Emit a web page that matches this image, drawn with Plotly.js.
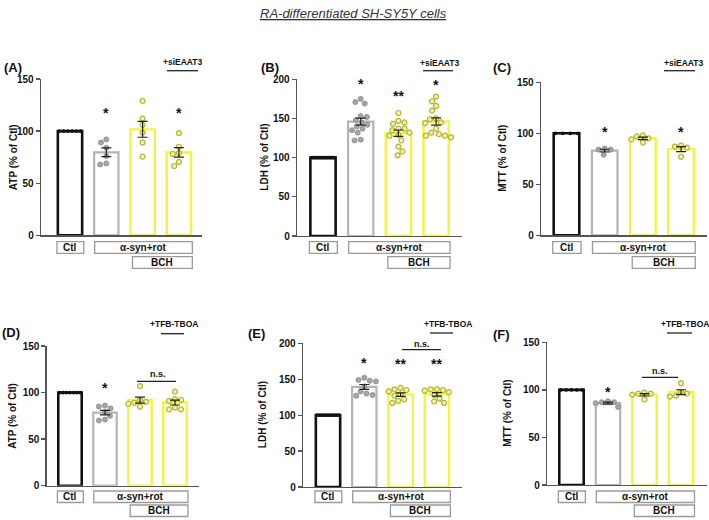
<!DOCTYPE html>
<html><head><meta charset="utf-8">
<script src="https://cdn.plot.ly/plotly-3.0.1.min.js"></script>
<style>html,body{margin:0;padding:0;background:#fff}</style>
</head><body><div id="chart" style="width:709px;height:520px"></div>
<script>
// ---- data ----
const groupNames = ["Ctl", "α-syn+rot", "α-syn+rot+BCH", "α-syn+rot+BCH+inhibitor"];

const atpA_ctl   = [100, 100, 100, 100, 100, 100];
const atpA_rot   = [92, 89, 84, 76, 69, 68];
const atpA_bch   = [129, 112, 106, 98.5, 89, 75.5];
const atpA_bchSi = [98, 85, 79, 78, 70.5, 66.5];

const ldhB_ctl   = [100, 100, 100, 100, 100, 100, 100, 100, 100, 100, 100, 100, 100, 100];
const ldhB_rot   = [175, 171, 169, 153, 152, 148, 145, 142, 140, 137, 135, 132, 123, 122];
const ldhB_bch   = [157, 147, 145, 143, 137, 137, 135, 132, 129, 128, 122, 114, 108, 103];
const ldhB_bchSi = [178, 172, 166, 160, 150, 149, 145, 144, 137, 132, 130, 128, 126, 128];

const mttC_ctl   = [100, 100, 100, 100];
const mttC_rot   = [85, 84, 84, 79];
const mttC_bch   = [98, 97, 95, 94, 91];
const mttC_bchSi = [88, 87, 86, 77];

const atpD_ctl   = [100, 100, 100, 100, 100, 100, 100];
const atpD_rot   = [86, 85, 83, 79, 75, 71, 70];
const atpD_bch   = [107, 92, 90, 89, 88, 85];
const atpD_bchTb = [101, 93, 92, 91, 84, 82, 82];

const ldhE_ctl   = [100, 100, 100, 100, 100, 100, 100, 100, 100];
const ldhE_rot   = [152, 149, 148, 147, 140, 133, 130, 128, 127];
const ldhE_bch   = [138, 136, 135, 133, 129, 127, 122, 120, 117];
const ldhE_bchTb = [136, 136, 135, 134, 132, 128, 123, 119, 117];

const mttF_ctl   = [100, 100, 100, 100, 100];
const mttF_rot   = [88, 87, 87, 86, 82];
const mttF_bch   = [97, 96, 96, 95, 90];
const mttF_bchTb = [107, 98, 96, 94, 93];

const yTicksSmall = [0, 50, 100, 150];
const yTicksLarge = [0, 50, 100, 150, 200];

// ---- drawing ----
const W = 709, H = 520;
const PX = x => x / W, PY = y => 1 - y / H;
const FONT = "Liberation Sans, Arial, sans-serif";

const panels = [
  {lab:'(A)', labXY:[13,68], ytitle:'ATP (% of Ctl)', ytx:13, sets:[atpA_ctl,atpA_rot,atpA_bch,atpA_bchSi], ticks:yTicksSmall,
   g:{l:41,r:202,c0:70,s:36.3,t:79,b:235.3}, stars:[[1,'*',108.7],[3,'*',108.7]],
   tag:{text:'+siEAAT3', x:182.5, y:62, x1:167, x2:198, ly:70.7}, boxRow:[241.7,253.3,256.7,268.3]},
  {lab:'(B)', labXY:[270,67], ytitle:'LDH (% of Ctl)', ytx:265, sets:[ldhB_ctl,ldhB_rot,ldhB_bch,ldhB_bchSi], ticks:yTicksLarge,
   g:{l:297,r:462,c0:323,s:37.7,t:79.3,b:236}, stars:[[1,'*',80],[2,'**',91.7],[3,'*',80.7]],
   tag:{text:'+siEAAT3', x:440, y:62.7, x1:423, x2:453, ly:70.7}, boxRow:[241.7,253.3,256.7,268.3]},
  {lab:'(C)', labXY:[502,67], ytitle:'MTT (% of Ctl)', ytx:503, sets:[mttC_ctl,mttC_rot,mttC_bch,mttC_bchSi], ticks:yTicksSmall,
   g:{l:541,r:707,c0:566.5,s:38.2,t:82.3,b:235.3}, stars:[[1,'*',128.3],[3,'*',128.3]],
   tag:{text:'+siEAAT3', x:684, y:62.7, x1:664, x2:695, ly:70.7}, boxRow:[241.7,253.3,256.7,268.3]},
  {lab:'(D)', labXY:[11,332], ytitle:'ATP (% of Ctl)', ytx:13, sets:[atpD_ctl,atpD_rot,atpD_bch,atpD_bchTb], ticks:yTicksSmall,
   g:{l:46.7,r:199,c0:70,s:35,t:346,b:485.7}, stars:[[1,'*',384]],
   tag:{text:'+TFB-TBOA', x:174, y:324, x1:161, x2:184, ly:333.7},
   ns:{x:158, y:374, x1:137, x2:176, ly:381.3}, boxRow:[491,502.5,505,516.5]},
  {lab:'(E)', labXY:[256,333], ytitle:'LDH (% of Ctl)', ytx:262, sets:[ldhE_ctl,ldhE_rot,ldhE_bch,ldhE_bchTb], ticks:yTicksLarge,
   g:{l:303,r:462,c0:328,s:36.3,t:343.3,b:487}, stars:[[1,'*',359],[2,'**',359.7],[3,'**',359.7]],
   tag:{text:'+TFB-TBOA', x:448, y:324, x1:430, x2:453, ly:333},
   ns:{x:422, y:343.7, x1:402, x2:441, ly:349.7}, boxRow:[491,502.5,505,516.5]},
  {lab:'(F)', labXY:[501,334], ytitle:'MTT (% of Ctl)', ytx:508, sets:[mttF_ctl,mttF_rot,mttF_bch,mttF_bchTb], ticks:yTicksSmall,
   g:{l:547,r:707,c0:571.5,s:36.5,t:342.3,b:485}, stars:[[1,'*',388.3]],
   tag:{text:'+TFB-TBOA', x:685, y:324, x1:667, x2:692, ly:333},
   ns:{x:660, y:370.7, x1:642, x2:678, ly:377.3}, boxRow:[491,502.5,505,516.5]}
];

const barLine = ['#111111', '#b4b4b4', '#f4f43c', '#f4f43c'];
const barLineW = [2.6, 2.2, 2.4, 2.4];
const BARW = 0.67;

function mean(a){ return a.reduce((s,v)=>s+v,0)/a.length; }
function sem(a){ const m=mean(a); const v=a.reduce((s,x)=>s+(x-m)*(x-m),0)/(a.length-1); return Math.sqrt(v/a.length); }

function swarm(vals, ppy, d){
  const order = vals.map((v,i)=>i).sort((a,b)=>vals[b]-vals[a]);
  const placed = []; const off = new Array(vals.length).fill(0);
  order.forEach((i,k)=>{
    const y = vals[i]*ppy;
    const iv = [];
    placed.forEach(p=>{ const dy=Math.abs(p.y-y); if(dy<d){ const dx=Math.sqrt(d*d-dy*dy); iv.push([p.x-dx,p.x+dx]); }});
    const c = [0]; iv.forEach(r=>c.push(r[0],r[1]));
    c.sort((a,b)=>Math.abs(a)-Math.abs(b) || (k%2? a-b : b-a));
    let x = 0;
    for(const cc of c){ if(iv.every(r=>cc<=r[0]+1e-6||cc>=r[1]-1e-6)){ x=cc; break; } }
    placed.push({x,y}); off[i]=x;
  });
  return off;
}

const traces = [], shapes = [], annotations = [];
const layout = {width:W, height:H, margin:{l:0,r:0,t:0,b:0}, paper_bgcolor:'#fff', plot_bgcolor:'rgba(0,0,0,0)',
  showlegend:false, font:{family:FONT, color:'#111'}, shapes, annotations};

panels.forEach((p,pi)=>{
  const n = pi+1, xa = 'x'+(n>1?n:''), ya = 'y'+(n>1?n:'');
  const g = p.g, ymax = p.ticks[p.ticks.length-1];
  layout['xaxis'+(n>1?n:'')] = {domain:[PX(g.l),PX(g.r)], range:[(g.l-g.c0)/g.s,(g.r-g.c0)/g.s], anchor:ya,
    showline:true, linecolor:'#555', linewidth:1.3, showgrid:false, zeroline:false, showticklabels:false, ticks:'', fixedrange:true};
  layout['yaxis'+(n>1?n:'')] = {domain:[PY(g.b),PY(g.t)], range:[0,ymax], anchor:xa,
    showline:true, linecolor:'#555', linewidth:1.3, showgrid:false, zeroline:false, tickmode:'array', tickvals:p.ticks,
    ticks:'outside', ticklen:4, tickwidth:1.3, tickcolor:'#555',
    tickfont:{family:FONT, size:10, color:'#111', weight:'bold'}, fixedrange:true};

  const means = p.sets.map(mean);
  traces.push({type:'bar', x:[0,1,2,3], y:means, width:BARW, xaxis:xa, yaxis:ya, hoverinfo:'skip',
    marker:{color:'#ffffff', line:{color:barLine, width:barLineW}}});

  const ppy = (g.b-g.t)/ymax;
  p.sets.forEach((vals,k)=>{
    let offs;
    if(k===0){
      const half = BARW*g.s/2 - 1.5; const m = vals.length;
      offs = vals.map((v,i)=> m>1 ? -half + 2*half*i/(m-1) : 0);
    } else {
      offs = swarm(vals, ppy, 6.2);
    }
    const style = k===0 ? {size:3.8, color:'#111', line:{width:0}}
                : k===1 ? {size:5, color:'#a6a6a6', line:{color:'#8c8c8c', width:0.9}}
                : {size:5, color:'#f1f1b4', line:{color:'#b4b42a', width:1.2}};
    traces.push({type:'scatter', mode:'markers', x:vals.map((v,i)=>k+offs[i]/g.s), y:vals, xaxis:xa, yaxis:ya,
      marker:style, cliponaxis:false, hoverinfo:'skip'});
  });

  traces.push({type:'scatter', mode:'markers', x:[1,2,3], y:means.slice(1), xaxis:xa, yaxis:ya, hoverinfo:'skip',
    marker:{size:1, color:'rgba(0,0,0,0)'}, cliponaxis:false,
    error_y:{type:'data', array:p.sets.slice(1).map(sem), visible:true, color:'#222', thickness:1.2, width:5}});

  annotations.push({xref:'paper', yref:'paper', x:PX(p.labXY[0]), y:PY(p.labXY[1]), text:'<b>'+p.lab+'</b>',
    showarrow:false, xanchor:'center', yanchor:'middle', font:{family:FONT, size:13, color:'#111'}});
  annotations.push({xref:'paper', yref:'paper', x:PX(p.ytx), y:PY((g.t+g.b)/2), text:'<b>'+p.ytitle+'</b>', textangle:-90,
    showarrow:false, xanchor:'center', yanchor:'middle', font:{family:FONT, size:10, color:'#111'}});
  p.stars.forEach(s=>{
    annotations.push({xref:'paper', yref:'paper', x:PX(g.c0+s[0]*g.s), y:PY(s[2]+4), text:'<b>'+s[1]+'</b>',
      showarrow:false, xanchor:'center', yanchor:'middle', font:{family:FONT, size:14, color:'#111'}});
  });
  annotations.push({xref:'paper', yref:'paper', x:PX(p.tag.x), y:PY(p.tag.y), text:'<b>'+p.tag.text+'</b>',
    showarrow:false, xanchor:'center', yanchor:'middle', font:{family:FONT, size:8.5, color:'#111'}});
  shapes.push({type:'line', xref:'paper', yref:'paper', x0:PX(p.tag.x1), x1:PX(p.tag.x2), y0:PY(p.tag.ly), y1:PY(p.tag.ly),
    line:{color:'#222', width:1.3}});
  if(p.ns){
    annotations.push({xref:'paper', yref:'paper', x:PX(p.ns.x), y:PY(p.ns.y), text:'<b>n.s.</b>',
      showarrow:false, xanchor:'center', yanchor:'middle', font:{family:FONT, size:9, color:'#111'}});
    shapes.push({type:'line', xref:'paper', yref:'paper', x0:PX(p.ns.x1), x1:PX(p.ns.x2), y0:PY(p.ns.ly), y1:PY(p.ns.ly),
      line:{color:'#222', width:1.3}});
  }
  const bx = u => g.c0 + u*g.s;
  const r = p.boxRow;
  const boxes = [[-0.36,0.38,r[0],r[1],groupNames[0]],[0.68,3.37,r[0],r[1],'α-syn+rot'],[1.72,3.37,r[2],r[3],'BCH']];
  boxes.forEach(b=>{
    shapes.push({type:'rect', xref:'paper', yref:'paper', x0:PX(bx(b[0])), x1:PX(bx(b[1])), y0:PY(b[3]), y1:PY(b[2]),
      line:{color:'#9a9a9a', width:1.3}, fillcolor:'rgba(0,0,0,0)'});
    annotations.push({xref:'paper', yref:'paper', x:PX((bx(b[0])+bx(b[1]))/2), y:PY((b[2]+b[3])/2), text:'<b>'+b[4]+'</b>',
      showarrow:false, xanchor:'center', yanchor:'middle', font:{family:FONT, size:10, color:'#111'}});
  });
});

annotations.push({xref:'paper', yref:'paper', x:PX(353.5), y:PY(13.5), text:'RA-differentiated SH-SY5Y cells',
  showarrow:false, xanchor:'center', yanchor:'middle',
  font:{family:FONT, size:13, color:'#333', style:'italic', lineposition:'under'}});

Plotly.newPlot('chart', traces, layout, {staticPlot:true, displayModeBar:false});
</script></body></html>
